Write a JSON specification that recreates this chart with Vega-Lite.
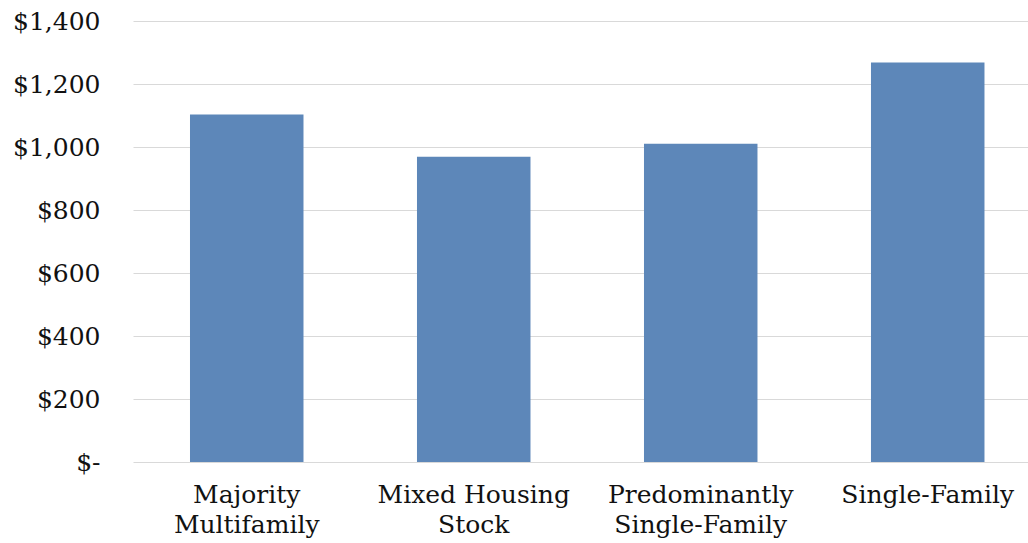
{
  "$schema": "https://vega.github.io/schema/vega-lite/v6.json",
  "width": 895,
  "height": 441,
  "padding": {"left": 133, "top": 21, "right": 0, "bottom": 81},
  "autosize": {"type": "none"},
  "background": "white",
  "config": {"view": {"stroke": null}, "font": "DejaVu Serif"},
  "data": {
    "values": [
      {"category": "Majority Multifamily", "value": 1103},
      {"category": "Mixed Housing Stock", "value": 969},
      {"category": "Predominantly Single-Family", "value": 1010},
      {"category": "Single-Family", "value": 1268}
    ]
  },
  "mark": {"type": "bar", "color": "#5D87B9"},
  "encoding": {
    "x": {
      "field": "category",
      "type": "nominal",
      "sort": null,
      "scale": {"paddingInner": 0.5, "paddingOuter": 0.2214, "align": 0.567},
      "axis": {
        "title": null,
        "domain": false,
        "ticks": false,
        "labelAngle": 0,
        "labelFont": "DejaVu Serif",
        "labelFontSize": 25,
        "labelColor": "#111111",
        "labelPadding": 20,
        "labelLineHeight": 30,
        "labelLimit": 0,
        "labelOverlap": false,
        "labelBaseline": "top",
        "labelExpr": "datum.label == 'Majority Multifamily' ? ['Majority', 'Multifamily'] : datum.label == 'Mixed Housing Stock' ? ['Mixed Housing', 'Stock'] : datum.label == 'Predominantly Single-Family' ? ['Predominantly', 'Single-Family'] : datum.label"
      }
    },
    "y": {
      "field": "value",
      "type": "quantitative",
      "scale": {"domain": [0, 1400], "nice": false},
      "axis": {
        "title": null,
        "domain": false,
        "ticks": false,
        "values": [0, 200, 400, 600, 800, 1000, 1200, 1400],
        "grid": true,
        "gridColor": "#D9D9D9",
        "gridWidth": 1,
        "labelFont": "DejaVu Serif",
        "labelFontSize": 25,
        "labelColor": "#111111",
        "labelPadding": 33,
        "labelLimit": 0,
        "labelExpr": "datum.value == 0 ? '$-' : '$' + format(datum.value, ',')"
      }
    }
  }
}
